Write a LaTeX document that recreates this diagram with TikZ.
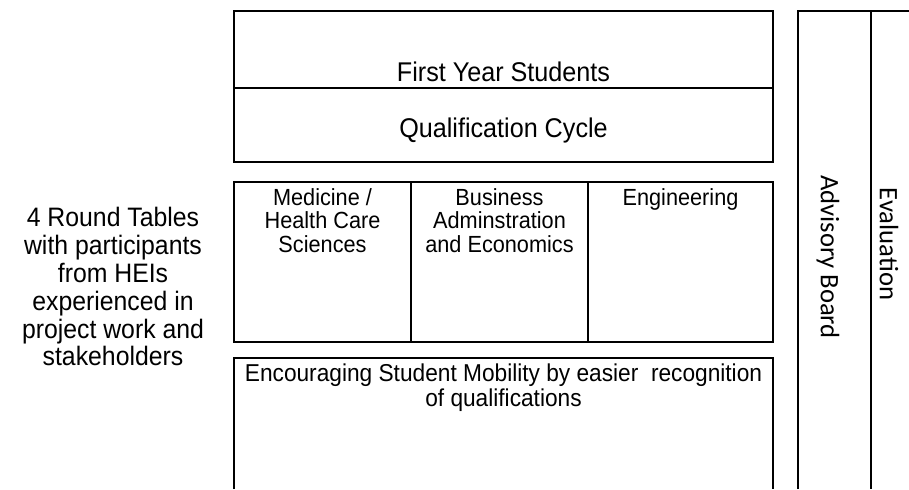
\documentclass[tikz,border=0pt]{standalone}
\usepackage{fontspec}
\setmainfont{Liberation Sans}[FakeStretch=0.93]
\newfontfamily\sidefont{Carlito}
\usetikzlibrary{positioning}
\tikzset{
  frm_thick/.style={draw=black, line width=1.7pt},
  frm_thin/.style={draw=black, line width=1.05pt},
  tx_top/.style={
    anchor=base, inner sep=0pt,
    font=\fontsize{20.3}{24}\selectfont},
  tx_field/.style={
    anchor=north, inner sep=0pt, align=center,
    font=\fontsize{17.5}{17.6}\selectfont},
  tx_mob/.style={
    anchor=north, inner sep=0pt, align=center,
    font=\fontsize{18.3}{18.75}\selectfont},
  tx_round/.style={
    anchor=north, inner sep=0pt, align=center,
    font=\fontsize{20}{20.9}\selectfont},
  tx_side/.style={
    rotate=-90, inner sep=0pt,
    font=\sidefont\fontsize{20}{24}\selectfont},
}

\begin{document}
\begin{tikzpicture}[x=0.75pt,y=-0.75pt]

\useasboundingbox (0,0) rectangle (909,489);

%% frames
\draw[frm_thick] (234,11) rectangle (773,162);
\draw[frm_thick] (234,88) -- (773,88);
\draw[frm_thin]  (234,182) rectangle (773,342);
\draw[frm_thin]  (411,182) -- (411,342);
\draw[frm_thin]  (588,182) -- (588,342);
\draw[frm_thin]  (234,489) |- (773,358) -- (773,489);
\draw[frm_thick] (798,489) |- (909,11);
\draw[frm_thick] (871,11) -- (871,489);

%% top box
\node[tx_top] at (503.5,81.5) (fy){First Year Students};
\node[tx_top] at (503.5,137)  (qc){Qualification Cycle};

%% fields
\node[tx_field] at (322.5,188) (med){Medicine /\\Health Care\\Sciences};
\node[tx_field] at (499.5,188) (bus){Business\\Adminstration\\and Economics};
\node[tx_field] at (680.5,188) (eng){Engineering};

%% mobility
\node[tx_mob] at (503.5,364) (mob){Encouraging Student Mobility by easier\ \ recognition\\of qualifications};

%% left side
\node[tx_round] at (113,207) (rt){4 Round Tables\\with participants\\from HEIs\\experienced in\\project work and\\stakeholders};

%% right columns
\node[tx_side] at (828,257) (adv){Advisory Board};
\node[tx_side] at (889,244) (eva){Evaluation};

\end{tikzpicture}
\end{document}
